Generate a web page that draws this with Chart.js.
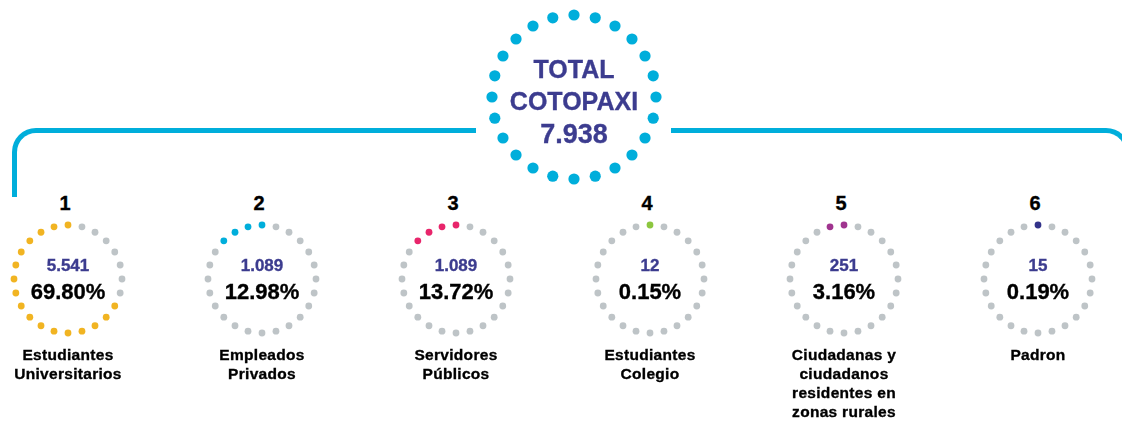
<!DOCTYPE html>
<html>
<head>
<meta charset="utf-8">
<script src="https://cdn.jsdelivr.net/npm/chart.js"></script>
<style>
  html, body { margin: 0; padding: 0; background: #fff; }
  body { width: 1122px; height: 422px; position: relative; overflow: hidden;
         font-family: "Liberation Sans", Arial, sans-serif; font-weight: bold; }
  canvas { position: absolute; }
  .txt { position: absolute; text-align: center; white-space: nowrap; -webkit-text-stroke: 0.35px currentColor; }
  .bracket { position: absolute; box-sizing: border-box; border: 0 solid #00aedb; }
</style>
</head>
<body>
<div class="bracket" style="left:12px; top:128px; width:464px; height:69px; border-top-width:5px; border-left-width:5px; border-top-left-radius:24px;"></div>
<div class="bracket" style="left:671px; top:128px; width:459px; height:80px; border-top-width:5px; border-right-width:5px; border-top-right-radius:24px;"></div>

<script>
// datos
const totalLabel = ['TOTAL', 'COTOPAXI', '7.938'];
const categories = ['Estudiantes\nUniversitarios', 'Empleados\nPrivados', 'Servidores\nPúblicos',
                    'Estudiantes\nColegio', 'Ciudadanas y\nciudadanos\nresidentes en\nzonas rurales', 'Padron'];
const ranks = ['1', '2', '3', '4', '5', '6'];
const counts = ['5.541', '1.089', '1.089', '12', '251', '15'];
const percents = ['69.80%', '12.98%', '13.72%', '0.15%', '3.16%', '0.19%'];
const filledDots = [17, 4, 4, 1, 2, 1];   // puntos de color en cada anillo (de 24)
const dotsPerRing = 24;

const colors = ['#f1b422', '#00aedb', '#e8256b', '#8cc63f', '#a0348f', '#33338a'];
const grayDot = '#bec4c7';
const cyan = '#00aedb';
const navy = '#3c3c8f';

// anillo de 24 puntos: etiquetas vacías y radio constante
const ringLabels = Array.from({ length: dotsPerRing }, (_, i) => String(i));
const ringValues = ringLabels.map(() => 1);

function dotColors(filled, color) {
    // se rellena desde arriba en sentido antihorario
    return ringLabels.map((_, i) => {
        if (i === 0) return filled > 0 ? color : grayDot;
        return (dotsPerRing - i) < filled ? color : grayDot;
    });
}

function makeRing(left, top, size, pad, radius, pointColors) {
    const cv = document.createElement('canvas');
    cv.width = size;
    cv.height = size;
    cv.style.left = left + 'px';
    cv.style.top = top + 'px';
    document.body.appendChild(cv);
    new Chart(cv, {
        type: 'radar',
        data: {
            labels: ringLabels,
            datasets: [{
                data: ringValues,
                pointBackgroundColor: pointColors,
                pointBorderWidth: 0,
                pointRadius: radius,
                pointHoverRadius: radius,
                borderWidth: 0,
                borderColor: 'rgba(0,0,0,0)',
                backgroundColor: 'rgba(0,0,0,0)',
                showLine: false,
                fill: false
            }]
        },
        options: {
            responsive: false,
            animation: false,
            events: [],
            layout: { padding: pad },
            plugins: { legend: { display: false }, tooltip: { enabled: false } },
            scales: {
                r: {
                    min: 0, max: 1,
                    grid: { display: false },
                    angleLines: { display: false },
                    ticks: { display: false },
                    pointLabels: { display: false }
                }
            }
        }
    });
}

function addText(text, cx, top, size, lineH, color, spacing) {
    const d = document.createElement('div');
    d.className = 'txt';
    d.style.left = (cx - 100) + 'px';
    d.style.width = '200px';
    d.style.top = top + 'px';
    d.style.fontSize = size + 'px';
    d.style.lineHeight = lineH + 'px';
    d.style.color = color;
    if (spacing) d.style.letterSpacing = spacing + 'px';
    d.innerHTML = text.split('\n').join('<br>');
    document.body.appendChild(d);
}

// círculo total
makeRing(484, 7, 180, 8, 5.6, ringLabels.map(() => cyan));
addText(totalLabel[0], 574, 54, 25, 30, navy);
addText(totalLabel[1], 574, 86, 25, 30, navy);
addText(totalLabel[2], 574, 119, 27, 30, navy);

// anillos por categoría
categories.forEach((cat, i) => {
    const cx = 68 + i * 194;
    makeRing(cx - 60, 219, 121, 6, 3.4, dotColors(filledDots[i], colors[i]));
    addText(ranks[i], cx - 3, 193, 20, 20, '#000');
    addText(counts[i], cx, 256, 17, 20, navy);
    addText(percents[i], cx, 280, 22, 24, '#000');
    addText(cat, cx, 345, 15.5, 19, '#000', 0.3);
});
</script>
</body>
</html>
